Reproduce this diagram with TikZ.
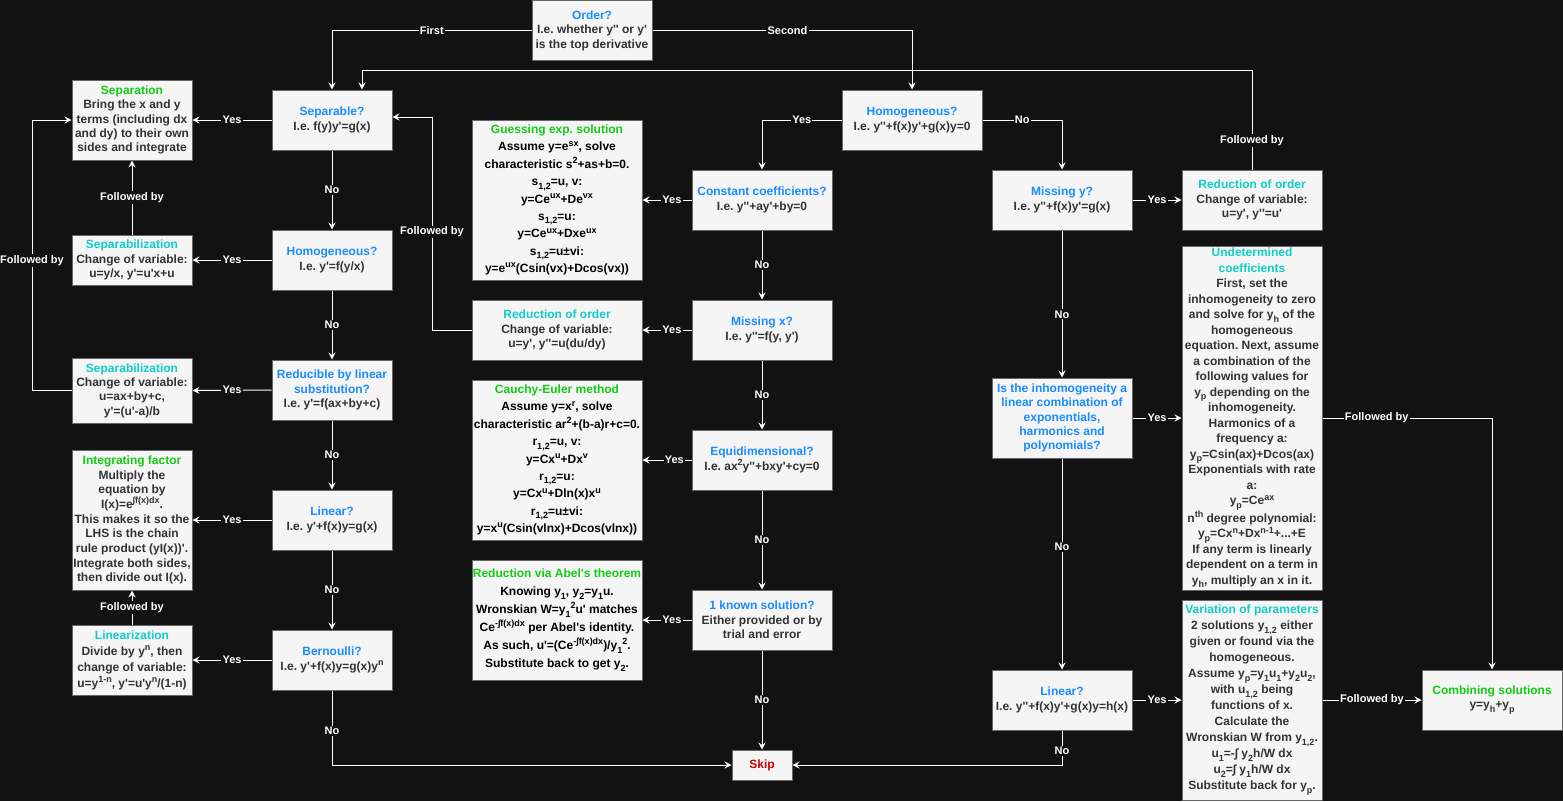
\documentclass[tikz,border=0pt]{standalone}
\usepackage{fontspec}
\setmainfont{Liberation Sans}[Ligatures=TeXOff]
\usetikzlibrary{arrows.meta}
\definecolor{bgc}{HTML}{121212}
\definecolor{boxfill}{HTML}{F5F5F5}
\definecolor{boxline}{HTML}{666666}
\definecolor{bodytxt}{HTML}{333333}
\definecolor{qblue}{HTML}{1A8CFF}
\definecolor{cgreen}{HTML}{11CC11}
\definecolor{ccyan}{HTML}{11CCCC}
\definecolor{cred}{HTML}{CC0000}
\newcommand\SUP[1]{\raisebox{0.4em}{\fontsize{9}{9}\selectfont #1}}
\newcommand\SUB[1]{\raisebox{-0.28em}{\fontsize{9}{9}\selectfont #1}}
\newcommand\QT[1]{\textcolor{qblue}{#1}}
\newcommand\GT[1]{\textcolor{cgreen}{#1}}
\newcommand\CT[1]{\textcolor{ccyan}{#1}}
\frenchspacing
\begin{document}
\begin{tikzpicture}[x=1pt,y=-1pt,
  box/.style={draw=boxline,fill=boxfill,line width=1pt,inner sep=0pt,align=center,text=bodytxt,font=\bfseries\fontsize{12}{14.4}\selectfont},
  dark/.style={text=black},
  arr/.style={draw=white,line width=1pt,-{Stealth[length=7pt,width=7pt,inset=2.5pt]}},
  lbl/.style={font=\bfseries\fontsize{11}{13}\selectfont,text=white,fill=bgc,inner sep=1.2pt},
  ]
\useasboundingbox (0,0) rectangle (1563,801);
\fill[bgc] (0,0) rectangle (1563,801);

% ---------- top ----------
\node[box,minimum width=120pt,minimum height=59.5pt] (ord) at (592,30.5) {\QT{Order?}\\I.e. whether y'' or y'\\is the top derivative};

% ---------- first order questions ----------
\node[box,minimum width=120pt,minimum height=60pt] (q1sep) at (332,120) {\QT{Separable?}\\I.e. f(y)y'=g(x)};
\node[box,minimum width=120pt,minimum height=60pt] (q1hom) at (332,260) {\QT{Homogeneous?}\\I.e. y'=f(y/x)};
\node[box,minimum width=120pt,minimum height=60pt] (q1red) at (332,390) {\QT{Reducible by linear}\\\QT{substitution?}\\I.e. y'=f(ax+by+c)};
\node[box,minimum width=120pt,minimum height=60pt] (q1lin) at (332,520) {\QT{Linear?}\\I.e. y'+f(x)y=g(x)};
\node[box,minimum width=120pt,minimum height=60pt] (q1ber) at (332,660) {\QT{Bernoulli?}\\I.e. y'+f(x)y=g(x)y\SUP{n}};

% ---------- first order methods ----------
\node[box,minimum width=120pt,minimum height=80pt] (mSep) at (132,120) {\GT{Separation}\\Bring the x and y\\terms (including dx\\and dy) to their own\\sides and integrate};
\node[box,minimum width=120pt,minimum height=50pt] (mSz1) at (132,260) {\CT{Separabilization}\\Change of variable:\\u=y/x, y'=u'x+u};
\node[box,minimum width=120pt,minimum height=65pt] (mSz2) at (132,390.5) {\CT{Separabilization}\\Change of variable:\\u=ax+by+c,\\y'=(u'-a)/b};
\node[box,minimum width=120pt,minimum height=140pt,font=\bfseries\fontsize{12}{14.7}\selectfont] (mInt) at (132,520) {\GT{Integrating factor}\\Multiply the\\equation by\\I(x)=e\SUP{∫f(x)dx}.\\This makes it so the\\LHS is the chain\\rule product (yI(x))'.\\Integrate both sides,\\then divide out I(x).};
\node[box,minimum width=120pt,minimum height=70pt,font=\bfseries\fontsize{12}{16}\selectfont] (mLz) at (132,660) {\CT{Linearization}\\Divide by y\SUP{n}, then\\change of variable:\\u=y\SUP{1-n}, y'=u'y\SUP{n}/(1-n)};

% ---------- second order methods (left) ----------
\node[box,dark,minimum width=170pt,minimum height=160pt,font=\bfseries\fontsize{12}{17.4}\selectfont] (mGs) at (557,200) {\GT{Guessing exp. solution}\\Assume y=e\SUP{sx}, solve\\characteristic s\SUP{2}+as+b=0.\\s\SUB{1,2}=u, v:\\y=Ce\SUP{ux}+De\SUP{vx}\\s\SUB{1,2}=u:\\y=Ce\SUP{ux}+Dxe\SUP{ux}\\s\SUB{1,2}=u±vi:\\y=e\SUP{ux}(Csin(vx)+Dcos(vx))};
\node[box,minimum width=170pt,minimum height=60pt] (mRd2) at (557,330) {\CT{Reduction of order}\\Change of variable:\\u=y', y''=u(du/dy)};
\node[box,dark,minimum width=170pt,minimum height=160pt,font=\bfseries\fontsize{12}{17.4}\selectfont] (mCE) at (557,460) {\GT{Cauchy-Euler method}\\Assume y=x\SUP{r}, solve\\characteristic ar\SUP{2}+(b-a)r+c=0.\\r\SUB{1,2}=u, v:\\y=Cx\SUP{u}+Dx\SUP{v}\\r\SUB{1,2}=u:\\y=Cx\SUP{u}+Dln(x)x\SUP{u}\\r\SUB{1,2}=u±vi:\\y=x\SUP{u}(Csin(vlnx)+Dcos(vlnx))};
\node[box,dark,minimum width=170pt,minimum height=120pt,font=\bfseries\fontsize{12}{18}\selectfont] (mAb) at (557,620) {\GT{Reduction via Abel's theorem}\\Knowing y\SUB{1}, y\SUB{2}=y\SUB{1}u.\\Wronskian W=y\SUB{1}\SUP{2}u' matches\\Ce\SUP{-∫f(x)dx} per Abel's identity.\\As such, u'=(Ce\SUP{-∫f(x)dx})/y\SUB{1}\SUP{2}.\\Substitute back to get y\SUB{2}.};

% ---------- second order questions (middle) ----------
\node[box,minimum width=140pt,minimum height=60pt] (q2hom) at (912,120) {\QT{Homogeneous?}\\I.e. y''+f(x)y'+g(x)y=0};
\node[box,minimum width=140pt,minimum height=60pt] (q2cc) at (762,200) {\QT{Constant coefficients?}\\I.e. y''+ay'+by=0};
\node[box,minimum width=140pt,minimum height=60pt] (q2mx) at (762,330) {\QT{Missing x?}\\I.e. y''=f(y, y')};
\node[box,minimum width=140pt,minimum height=60pt] (q2eq) at (762,460) {\QT{Equidimensional?}\\I.e. ax\SUP{2}y''+bxy'+cy=0};
\node[box,minimum width=140pt,minimum height=60pt] (q2kn) at (762,620) {\QT{1 known solution?}\\Either provided or by\\trial and error};
\node[box,minimum width=60pt,minimum height=30pt,text=cred] (skip) at (762,765) {Skip};

% ---------- second order questions (right) ----------
\node[box,minimum width=140pt,minimum height=60pt] (q2my) at (1062,200) {\QT{Missing y?}\\I.e. y''+f(x)y'=g(x)};
\node[box,minimum width=140pt,minimum height=80pt,text=qblue] (q2in) at (1062,418) {Is the inhomogeneity a\\linear combination of\\exponentials,\\harmonics and\\polynomials?};
\node[box,minimum width=140pt,minimum height=60pt] (q2ln) at (1062,700) {\QT{Linear?}\\I.e. y''+f(x)y'+g(x)y=h(x)};

% ---------- second order methods (right) ----------
\node[box,minimum width=140pt,minimum height=60pt] (mRd3) at (1252,200) {\CT{Reduction of order}\\Change of variable:\\u=y', y''=u'};
\node[box,minimum width=140pt,minimum height=344pt,font=\bfseries\fontsize{12}{15.5}\selectfont] (mUd) at (1252,418) {\CT{Undetermined}\\\CT{coefficients}\\First, set the\\inhomogeneity to zero\\and solve for y\SUB{h} of the\\homogeneous\\equation. Next, assume\\a combination of the\\following values for\\y\SUB{p} depending on the\\inhomogeneity.\\Harmonics of a\\frequency a:\\y\SUB{p}=Csin(ax)+Dcos(ax)\\Exponentials with rate\\a:\\y\SUB{p}=Ce\SUP{ax}\\n\SUP{th} degree polynomial:\\y\SUB{p}=Cx\SUP{n}+Dx\SUP{n-1}+...+E\\If any term is linearly\\dependent on a term in\\y\SUB{h}, multiply an x in it.};
\node[box,minimum width=140pt,minimum height=200pt,font=\bfseries\fontsize{12}{16}\selectfont] (mVp) at (1252,700) {\CT{Variation of parameters}\\2 solutions y\SUB{1,2} either\\given or found via the\\homogeneous.\\Assume y\SUB{p}=y\SUB{1}u\SUB{1}+y\SUB{2}u\SUB{2},\\with u\SUB{1,2} being\\functions of x.\\Calculate the\\Wronskian W from y\SUB{1,2}.\\u\SUB{1}=-∫ y\SUB{2}h/W dx\\u\SUB{2}=∫ y\SUB{1}h/W dx\\Substitute back for y\SUB{p}.};
\node[box,minimum width=140pt,minimum height=60pt] (mCb) at (1492,700) {\GT{Combining solutions}\\y=y\SUB{h}+y\SUB{p}};

% ---------- helper coordinates ----------
\coordinate (topbus) at (0,70);
\coordinate (fbA) at (432,330);
\coordinate (fbB) at (432,117);
\coordinate (lpA) at (32,390.5);
\coordinate (lpB) at (32,120);

% ---------- connectors ----------
\draw[arr] (ord.west) -| node[lbl,pos=0.25]{First} (q1sep.north);
\draw[arr] (ord.east) -| node[lbl,pos=0.26]{Second} (q2hom.north);
\draw[arr] (mRd3.north) -- node[lbl,pos=0.29]{Followed by} (mRd3.north |- topbus) -| ([xshift=30pt]q1sep.north);

% first order chain
\draw[arr] (q1sep.south) -- node[lbl]{No} (q1hom.north);
\draw[arr] (q1hom.south) -- node[lbl]{No} (q1red.north);
\draw[arr] (q1red.south) -- node[lbl]{No} (q1lin.north);
\draw[arr] (q1lin.south) -- node[lbl]{No} (q1ber.north);
\draw[arr] (q1ber.south) |- node[lbl,pos=0.27]{No} (skip.west);

\draw[arr] (q1sep.west) -- node[lbl]{Yes} (mSep.east);
\draw[arr] (q1hom.west) -- node[lbl]{Yes} (mSz1.east);
\draw[arr] (q1red.west) -- node[lbl]{Yes} (mSz2.east);
\draw[arr] (q1lin.west) -- node[lbl]{Yes} (mInt.east);
\draw[arr] (q1ber.west) -- node[lbl]{Yes} (mLz.east);

\draw[arr] (mSz1.north) -- node[lbl]{Followed by} (mSep.south);
\draw[arr] (mLz.north) -- node[lbl]{Followed by} (mInt.south);
\draw[arr] (mSz2.west) -- (lpA) -- node[lbl,pos=0.48]{Followed by} (lpB) -- (mSep.west);
\draw[arr] (mRd2.west) -- (fbA) -- node[lbl,pos=0.46]{Followed by} (fbB) -- ([yshift=3pt]q1sep.east);

% second order middle chain
\draw[arr] (q2hom.west) -| node[lbl,pos=0.25]{Yes} (q2cc.north);
\draw[arr] (q2cc.south) -- node[lbl]{No} (q2mx.north);
\draw[arr] (q2mx.south) -- node[lbl]{No} (q2eq.north);
\draw[arr] (q2eq.south) -- node[lbl]{No} (q2kn.north);
\draw[arr] (q2kn.south) -- node[lbl]{No} (skip.north);

\draw[arr] (q2cc.west) -- node[lbl,pos=0.4]{Yes} (mGs.east);
\draw[arr] (q2mx.west) -- node[lbl,pos=0.4]{Yes} (mRd2.east);
\draw[arr] (q2eq.west) -- node[lbl,pos=0.35]{Yes} (mCE.east);
\draw[arr] (q2kn.west) -- node[lbl,pos=0.4]{Yes} (mAb.east);

% second order right chain
\draw[arr] (q2hom.east) -| node[lbl,pos=0.25]{No} (q2my.north);
\draw[arr] (q2my.east) -- node[lbl]{Yes} (mRd3.west);
\draw[arr] (q2my.south) -- node[lbl,pos=0.57]{No} (q2in.north);
\draw[arr] (q2in.east) -- node[lbl]{Yes} (mUd.west);
\draw[arr] (q2in.south) -- node[lbl,pos=0.42]{No} (q2ln.north);
\draw[arr] (q2ln.east) -- node[lbl]{Yes} (mVp.west);
\draw[arr] (q2ln.south) |- node[lbl,pos=0.3]{No} (skip.east);

\draw[arr] (mVp.east) -- node[lbl]{Followed by} (mCb.west);
\draw[arr] (mUd.east) -| node[lbl,pos=0.16]{Followed by} (mCb.north);
\end{tikzpicture}
\end{document}
